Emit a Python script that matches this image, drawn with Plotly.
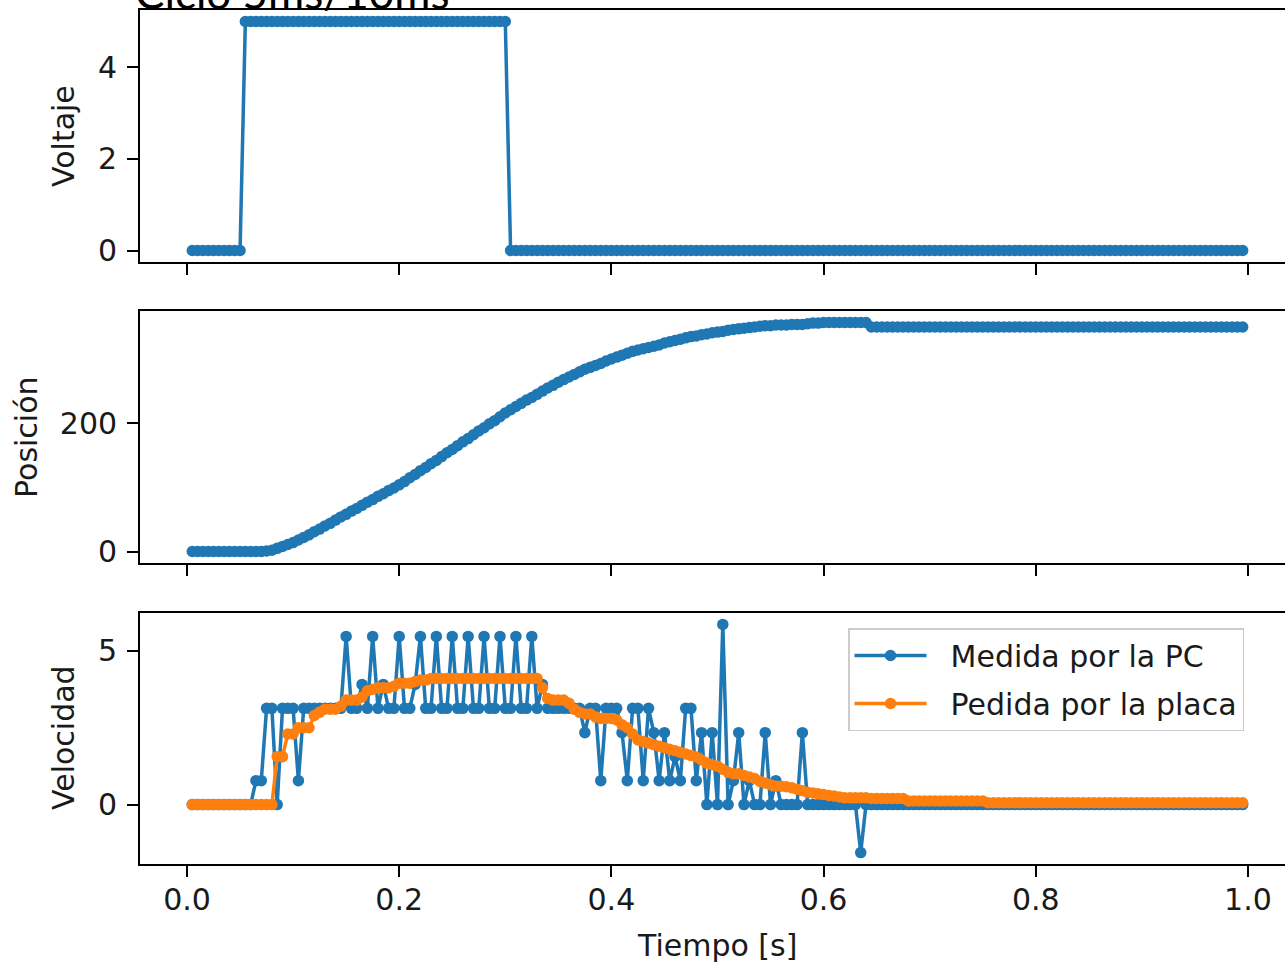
import plotly.graph_objects as go
from plotly.subplots import make_subplots

# ---------------- data ----------------
tiempo = [
    0.005, 0.010, 0.015, 0.020, 0.025, 0.030, 0.035, 0.040, 0.045, 0.050,
    0.055, 0.060, 0.065, 0.070, 0.075, 0.080, 0.085, 0.090, 0.095, 0.100,
    0.105, 0.110, 0.115, 0.120, 0.125, 0.130, 0.135, 0.140, 0.145, 0.150,
    0.155, 0.160, 0.165, 0.170, 0.175, 0.180, 0.185, 0.190, 0.195, 0.200,
    0.205, 0.210, 0.215, 0.220, 0.225, 0.230, 0.235, 0.240, 0.245, 0.250,
    0.255, 0.260, 0.265, 0.270, 0.275, 0.280, 0.285, 0.290, 0.295, 0.300,
    0.305, 0.310, 0.315, 0.320, 0.325, 0.330, 0.335, 0.340, 0.345, 0.350,
    0.355, 0.360, 0.365, 0.370, 0.375, 0.380, 0.385, 0.390, 0.395, 0.400,
    0.405, 0.410, 0.415, 0.420, 0.425, 0.430, 0.435, 0.440, 0.445, 0.450,
    0.455, 0.460, 0.465, 0.470, 0.475, 0.480, 0.485, 0.490, 0.495, 0.500,
    0.505, 0.510, 0.515, 0.520, 0.525, 0.530, 0.535, 0.540, 0.545, 0.550,
    0.555, 0.560, 0.565, 0.570, 0.575, 0.580, 0.585, 0.590, 0.595, 0.600,
    0.605, 0.610, 0.615, 0.620, 0.625, 0.630, 0.635, 0.640, 0.645, 0.650,
    0.655, 0.660, 0.665, 0.670, 0.675, 0.680, 0.685, 0.690, 0.695, 0.700,
    0.705, 0.710, 0.715, 0.720, 0.725, 0.730, 0.735, 0.740, 0.745, 0.750,
    0.755, 0.760, 0.765, 0.770, 0.775, 0.780, 0.785, 0.790, 0.795, 0.800,
    0.805, 0.810, 0.815, 0.820, 0.825, 0.830, 0.835, 0.840, 0.845, 0.850,
    0.855, 0.860, 0.865, 0.870, 0.875, 0.880, 0.885, 0.890, 0.895, 0.900,
    0.905, 0.910, 0.915, 0.920, 0.925, 0.930, 0.935, 0.940, 0.945, 0.950,
    0.955, 0.960, 0.965, 0.970, 0.975, 0.980, 0.985, 0.990, 0.995,
]

voltaje = [
    0, 0, 0, 0, 0, 0, 0, 0, 0, 0,
    5, 5, 5, 5, 5, 5, 5, 5, 5, 5,
    5, 5, 5, 5, 5, 5, 5, 5, 5, 5,
    5, 5, 5, 5, 5, 5, 5, 5, 5, 5,
    5, 5, 5, 5, 5, 5, 5, 5, 5, 5,
    5, 5, 5, 5, 5, 5, 5, 5, 5, 5,
    0, 0, 0, 0, 0, 0, 0, 0, 0, 0,
    0, 0, 0, 0, 0, 0, 0, 0, 0, 0,
    0, 0, 0, 0, 0, 0, 0, 0, 0, 0,
    0, 0, 0, 0, 0, 0, 0, 0, 0, 0,
    0, 0, 0, 0, 0, 0, 0, 0, 0, 0,
    0, 0, 0, 0, 0, 0, 0, 0, 0, 0,
    0, 0, 0, 0, 0, 0, 0, 0, 0, 0,
    0, 0, 0, 0, 0, 0, 0, 0, 0, 0,
    0, 0, 0, 0, 0, 0, 0, 0, 0, 0,
    0, 0, 0, 0, 0, 0, 0, 0, 0, 0,
    0, 0, 0, 0, 0, 0, 0, 0, 0, 0,
    0, 0, 0, 0, 0, 0, 0, 0, 0, 0,
    0, 0, 0, 0, 0, 0, 0, 0, 0, 0,
    0, 0, 0, 0, 0, 0, 0, 0, 0,
]

posicion = [
    0, 0, 0, 0, 0, 0, 0, 0, 0, 0,
    0, 0, 0, 0, 1, 2, 5, 8, 11, 14,
    18, 22, 26, 31, 35, 40, 44, 49, 54, 58,
    63, 67, 72, 77, 81, 86, 90, 95, 99, 104,
    109, 115, 120, 126, 131, 137, 142, 148, 154, 159,
    165, 171, 176, 182, 188, 193, 199, 204, 210, 216,
    221, 226, 231, 236, 240, 245, 250, 255, 259, 264,
    268, 272, 276, 280, 284, 287, 290, 293, 297, 300,
    303, 306, 309, 312, 314, 316, 318, 320, 322, 325,
    327, 329, 331, 333, 335, 336, 338, 339, 341, 342,
    343, 345, 346, 347, 348, 349, 350, 351, 352, 352,
    353, 353, 353, 354, 354, 354, 355, 356, 356, 357,
    357, 357, 357, 357, 357, 357, 357, 357, 350, 350,
    350, 350, 350, 350, 350, 350, 350, 350, 350, 350,
    350, 350, 350, 350, 350, 350, 350, 350, 350, 350,
    350, 350, 350, 350, 350, 350, 350, 350, 350, 350,
    350, 350, 350, 350, 350, 350, 350, 350, 350, 350,
    350, 350, 350, 350, 350, 350, 350, 350, 350, 350,
    350, 350, 350, 350, 350, 350, 350, 350, 350, 350,
    350, 350, 350, 350, 350, 350, 350, 350, 350,
]

vel_pc = [
    0, 0, 0, 0, 0, 0, 0, 0, 0, 0,
    0, 0, 0.78, 0.78, 3.13, 3.13, 0, 3.13, 3.13, 3.13,
    0.78, 3.13, 3.13, 3.13, 3.13, 3.13, 3.13, 3.13, 3.13, 5.47,
    3.13, 3.13, 3.91, 3.13, 5.47, 3.13, 3.91, 3.13, 3.13, 5.47,
    3.13, 3.13, 3.91, 5.47, 3.13, 3.13, 5.47, 3.13, 3.13, 5.47,
    3.13, 3.13, 5.47, 3.13, 3.13, 5.47, 3.13, 3.13, 5.47, 3.13,
    3.13, 5.47, 3.13, 3.13, 5.47, 3.13, 3.91, 3.13, 3.13, 3.13,
    3.13, 3.13, 3.13, 3.13, 2.34, 3.13, 3.13, 0.78, 3.13, 3.13,
    3.13, 2.34, 0.78, 3.13, 3.13, 0.78, 3.13, 2.34, 0.78, 2.34,
    0.78, 1.56, 0.78, 3.13, 3.13, 0.78, 2.34, 0, 2.34, 0,
    5.86, 0, 0.78, 2.34, 0, 0.78, 0, 0, 2.34, 0,
    0.78, 0, 0, 0, 0, 2.34, 0, 0, 0, 0,
    0, 0, 0, 0, 0, 0, -1.56, 0, 0, 0,
    0, 0, 0, 0, 0, 0, 0, 0, 0, 0,
    0, 0, 0, 0, 0, 0, 0, 0, 0, 0,
    0, 0, 0, 0, 0, 0, 0, 0, 0, 0,
    0, 0, 0, 0, 0, 0, 0, 0, 0, 0,
    0, 0, 0, 0, 0, 0, 0, 0, 0, 0,
    0, 0, 0, 0, 0, 0, 0, 0, 0, 0,
    0, 0, 0, 0, 0, 0, 0, 0, 0,
]

vel_placa = [
    0, 0, 0, 0, 0, 0, 0, 0, 0, 0,
    0, 0, 0, 0, 0, 0, 1.56, 1.56, 2.3, 2.3,
    2.5, 2.5, 2.5, 2.9, 3.0, 3.1, 3.1, 3.1, 3.2, 3.4,
    3.4, 3.4, 3.5, 3.7, 3.75, 3.8, 3.8, 3.8, 3.85, 3.95,
    3.95, 3.95, 4.0, 4.05, 4.05, 4.1, 4.1, 4.1, 4.1, 4.1,
    4.1, 4.1, 4.1, 4.1, 4.1, 4.1, 4.1, 4.1, 4.1, 4.1,
    4.1, 4.1, 4.1, 4.1, 4.1, 4.1, 3.8, 3.45, 3.4, 3.4,
    3.4, 3.3, 3.1, 3.0, 2.95, 2.95, 2.85, 2.8, 2.8, 2.8,
    2.75, 2.6, 2.5, 2.3, 2.1, 2.05, 2.0, 1.95, 1.9, 1.85,
    1.8, 1.75, 1.7, 1.65, 1.6, 1.55, 1.45, 1.35, 1.3, 1.25,
    1.15, 1.05, 1.0, 1.0, 0.95, 0.9, 0.85, 0.75, 0.7, 0.65,
    0.6, 0.6, 0.58, 0.55, 0.5, 0.45, 0.4, 0.38, 0.35, 0.33,
    0.3, 0.28, 0.25, 0.22, 0.22, 0.22, 0.22, 0.22, 0.2, 0.2,
    0.2, 0.2, 0.2, 0.2, 0.2, 0.12, 0.12, 0.12, 0.12, 0.12,
    0.12, 0.12, 0.12, 0.12, 0.12, 0.12, 0.12, 0.12, 0.12, 0.12,
    0.06, 0.06, 0.06, 0.06, 0.06, 0.06, 0.06, 0.06, 0.06, 0.06,
    0.06, 0.06, 0.06, 0.06, 0.06, 0.06, 0.06, 0.06, 0.06, 0.06,
    0.06, 0.06, 0.06, 0.06, 0.06, 0.06, 0.06, 0.06, 0.06, 0.06,
    0.06, 0.06, 0.06, 0.06, 0.06, 0.06, 0.06, 0.06, 0.06, 0.06,
    0.06, 0.06, 0.06, 0.06, 0.06, 0.06, 0.06, 0.06, 0.06,
]

x_ticks = [0.0, 0.2, 0.4, 0.6, 0.8, 1.0]
x_tick_labels = ["0.0", "0.2", "0.4", "0.6", "0.8", "1.0"]
titulo = "Ciclo 5ms/10ms"
nombres = ["Medida por la PC", "Pedida por la placa"]

# ---------------- style ----------------
BLUE = "#1f77b4"
ORANGE = "#ff7f0e"
FONT = "DejaVu Sans"
FS = 30
LW = 3.5
MS = 11.5
GAP = "\u00a0\u00a0"  # visual gap between legend symbol and its text

fig = make_subplots(rows=3, cols=1, shared_xaxes=True)

fig.add_trace(go.Scatter(x=tiempo, y=voltaje, mode="lines+markers",
                         line=dict(color=BLUE, width=LW),
                         marker=dict(color=BLUE, size=MS), showlegend=False),
              row=1, col=1)
fig.add_trace(go.Scatter(x=tiempo, y=posicion, mode="lines+markers",
                         line=dict(color=BLUE, width=LW),
                         marker=dict(color=BLUE, size=MS), showlegend=False),
              row=2, col=1)
fig.add_trace(go.Scatter(x=tiempo, y=vel_pc, mode="lines+markers", name=GAP + nombres[0],
                         legendgroup="a",
                         line=dict(color=BLUE, width=LW),
                         marker=dict(color=BLUE, size=MS)),
              row=3, col=1)
fig.add_trace(go.Scatter(x=tiempo, y=vel_placa, mode="lines+markers", name=GAP + nombres[1],
                         legendgroup="b",
                         line=dict(color=ORANGE, width=LW),
                         marker=dict(color=ORANGE, size=MS)),
              row=3, col=1)

W, H = 1285, 969
L, R, T, B = 140, 0, 10, 105
ph = H - T - B


def ydom(top_px, bot_px):
    return [(H - B - bot_px) / ph, (H - B - top_px) / ph]


axis_common = dict(showline=True, linecolor="black", linewidth=1.8,
                   ticks="outside", ticklen=11, tickwidth=1.8, tickcolor="black",
                   showgrid=False, zeroline=False,
                   tickfont=dict(family=FONT, size=FS, color="#1a1a1a"))

for i in (1, 2, 3):
    fig.update_xaxes(row=i, col=1, range=[-0.0443, 1.0349], mirror=True,
                     tickvals=x_ticks, ticktext=x_tick_labels, **axis_common)

fig.update_xaxes(row=3, col=1, showticklabels=True, ticklabelstandoff=-3)

fig.update_yaxes(row=1, col=1, range=[-0.25, 5.25], tickvals=[0, 2, 4],
                 domain=ydom(10, 262), mirror=False, ticklabelstandoff=4, **axis_common)
fig.update_yaxes(row=2, col=1, range=[-17.85, 374.85], tickvals=[0, 200],
                 domain=ydom(311, 563), mirror=False, ticklabelstandoff=4, **axis_common)
fig.update_yaxes(row=3, col=1, range=[-1.931, 6.231], tickvals=[0, 5],
                 domain=ydom(613, 864), mirror=False, ticklabelstandoff=4, **axis_common)


def px_x(px):
    return (px - L) / (W - L - R)


def px_y(py):
    return (H - B - py) / ph


ann = []
for text, cx, cy in (("Voltaje", 63, 136), ("Posición", 26, 437), ("Velocidad", 63, 738)):
    ann.append(dict(text=text, x=px_x(cx), y=px_y(cy), xref="paper", yref="paper",
                    textangle=-90, showarrow=False, xanchor="center", yanchor="middle",
                    font=dict(family=FONT, size=FS, color="#1a1a1a")))
ann.append(dict(text="Tiempo [s]", x=px_x(717), y=px_y(945), xref="paper", yref="paper",
                showarrow=False, xanchor="center", yanchor="middle",
                font=dict(family=FONT, size=FS, color="#1a1a1a")))
ann.append(dict(text=titulo, x=px_x(133), y=px_y(20), xref="paper", yref="paper",
                showarrow=False, xanchor="left", yanchor="bottom",
                font=dict(family="Lato", size=44, color="black")))

fig.update_layout(
    width=W, height=H,
    margin=dict(l=L, r=R, t=T, b=B, pad=0),
    paper_bgcolor="white", plot_bgcolor="white",
    annotations=ann,
    legend=dict(x=px_x(848), y=px_y(628), xanchor="left", yanchor="top",
                bgcolor="rgba(255,255,255,0.85)", bordercolor="#cccccc", borderwidth=1.5,
                font=dict(family=FONT, size=FS, color="#1a1a1a"),
                itemwidth=72, tracegroupgap=6),
)

fig.write_html("out.html", config={"displayModeBar": False},
               post_script="document.body.style.margin='0';document.body.style.overflow='hidden';")
